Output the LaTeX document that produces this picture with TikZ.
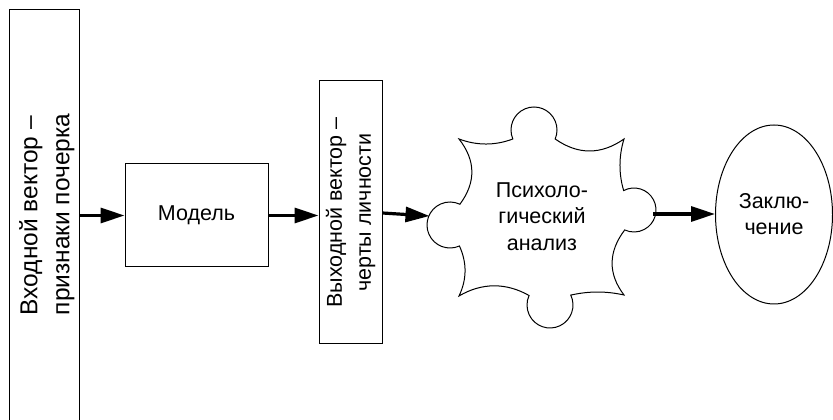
\documentclass[tikz,border=0pt]{standalone}
\usepackage{fontspec}
\setmainfont{Liberation Sans}
\usepackage{graphicx}
\usetikzlibrary{arrows.meta,shapes.geometric}
\begin{document}
\begin{tikzpicture}[x=1pt,y=1pt,
  outline/.style={draw, line width=1pt},
  lbl/.style={font=\fontsize{21.5}{26.5}\selectfont, align=center, inner sep=0pt},
  vlbl/.style={font=\fontsize{21.5}{29}\selectfont, inner sep=0pt},
  biglbl/.style={font=\fontsize{24.5}{32}\selectfont, inner sep=0pt},
  arr/.style={line width=3.2pt, -{Triangle[length=24pt,width=15pt]}}]
\useasboundingbox (0,0) rectangle (833,420);

% input vector (open at the bottom)
\node[minimum width=69pt, minimum height=410pt, inner sep=0pt] (in) at (44.5,205) {};
\draw[line width=1pt] (in.south west) |- (in.north east) -- (in.south east);
\node[biglbl] (intext) at (47,205.5) {\rotatebox{90}{\begin{tabular}{@{}l@{}}Входной вектор –\\признаки почерка\end{tabular}}};

% model
\node[outline, lbl, minimum width=143pt, minimum height=103pt] (model) at (196.5,204.5) {Модель};

% output vector
\node[outline, vlbl, minimum width=63pt, minimum height=263pt] (out) at (350.5,207.5)
  {\rotatebox{90}{\begin{tabular}{@{}c@{}}Выходной вектор –\\черты личности\end{tabular}}};

% psychological analysis (cloud)
\draw[line width=1pt]
  (459,281) .. controls (477,274.3) and (495,274.3) .. (512.83,281.01)
  arc[start angle=203, end angle=-23, radius=23]
  .. controls (578,265) and (601,265) .. (624,281)
  .. controls (618.7,264) and (618.7,246) .. (623.67,229.42)
  arc[start angle=118, end angle=-115, radius=22]
  .. controls (608,168) and (608,146) .. (624,125)
  .. controls (606,129) and (589,129) .. (570.76,124.9)
  arc[start angle=25.5, end angle=-204.4, radius=23]
  .. controls (506,137.5) and (482,137.5) .. (459,124)
  .. controls (467,140.7) and (467,157.3) .. (459.43,174.02)
  arc[start angle=-65.8, end angle=-295.5, radius=23]
  .. controls (476,237.5) and (476,259.3) .. (459,281) -- cycle;
\node[lbl] (psy) at (542,203.3) {Психоло-\\гический\\анализ};
\coordinate (psyL) at (429.5,204);
\coordinate (psyR) at (653,206);

% conclusion
\node[draw, line width=1pt, ellipse, minimum width=117pt, minimum height=179pt, inner sep=0pt,
  font=\fontsize{21.5}{26}\selectfont, align=center] (concl) at (774,205.5) {Заклю-\\чение};

% connectors
\draw[arr] (in.east |- model.west) -- (model.west);
\draw[arr] (model.east) -- (out.west |- model.east);
\draw[arr] (out.east |- 0,207) -- (psyL);
\draw[arr] (psyR) -- (concl.west |- psyR);
\end{tikzpicture}
\end{document}
